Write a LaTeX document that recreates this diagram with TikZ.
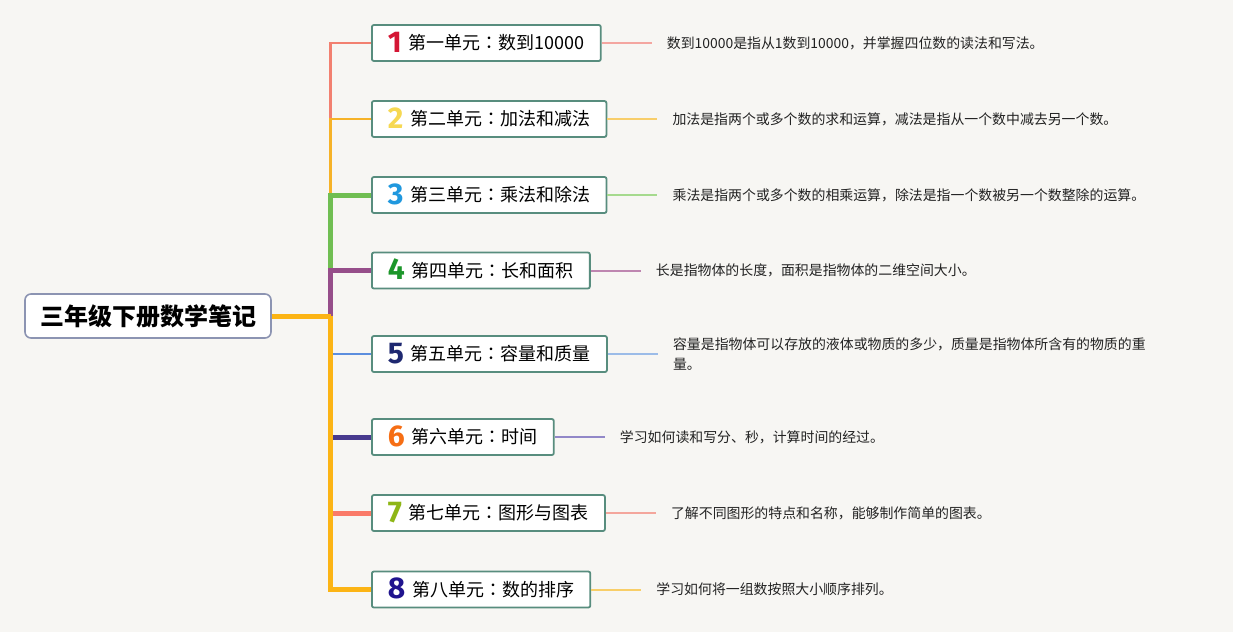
\documentclass[tikz,border=0pt]{standalone}
\usepackage{fontspec}
\setmainfont{Noto Sans CJK SC}
\newfontfamily\numfont{Fira Sans}
\newfontfamily\colonfont{Noto Sans CJK JP}
\usetikzlibrary{positioning}

\definecolor{bgcol}{RGB}{247,246,243}
\definecolor{boxline}{RGB}{88,141,126}
\definecolor{rootline}{RGB}{140,148,178}
\definecolor{txtcol}{RGB}{34,34,34}
\definecolor{bA}{RGB}{242,128,112}
\definecolor{bB}{RGB}{246,178,40}
\definecolor{bC}{RGB}{112,190,82}
\definecolor{bD}{RGB}{150,78,138}
\definecolor{bE}{RGB}{92,142,222}
\definecolor{bF}{RGB}{72,58,142}
\definecolor{bG}{RGB}{250,122,104}
\definecolor{bH}{RGB}{252,180,20}
\definecolor{lA}{RGB}{244,166,160}
\definecolor{lB}{RGB}{248,206,106}
\definecolor{lC}{RGB}{166,218,142}
\definecolor{lD}{RGB}{190,134,176}
\definecolor{lE}{RGB}{156,188,232}
\definecolor{lF}{RGB}{146,136,200}
\definecolor{lG}{RGB}{244,166,156}
\definecolor{lH}{RGB}{248,206,104}
\definecolor{nA}{RGB}{212,22,52}
\definecolor{nB}{RGB}{246,216,82}
\definecolor{nC}{RGB}{32,152,222}
\definecolor{nD}{RGB}{28,150,42}
\definecolor{nE}{RGB}{30,40,112}
\definecolor{nF}{RGB}{246,110,20}
\definecolor{nG}{RGB}{142,182,22}
\definecolor{nH}{RGB}{32,20,142}

\newcommand\unitno[2]{\raisebox{-2.5pt}{\numfont\bfseries\fontsize{30}{30}\selectfont\color{#1}#2}\hspace{7pt}}
\newcommand\ucolon{{\colonfont ：}}

\begin{document}
\begin{tikzpicture}[x=1pt,y=-1pt,rootbox/.style={draw=rootline,line width=1.6pt,fill=white,rounded corners=6pt,minimum width=246pt,minimum height=44pt,inner sep=0pt,font=\fontsize{24}{24}\selectfont\bfseries},unitbox/.style={draw=boxline,line width=1.8pt,fill=white,rounded corners=2pt,anchor=west,minimum height=36pt,text height=15.5pt,text depth=2.5pt,inner xsep=16pt,inner ysep=0pt,font=\fontsize{18}{18}\selectfont},desc/.style={anchor=west,inner xsep=15pt,inner ysep=0pt,align=left,text=txtcol,font=\fontsize{13.9}{20}\selectfont},thin/.style={line width=2.5pt},thick/.style={line width=5pt},dline/.style={line width=2pt}]
\def\xu{371};
\def\gap{50pt};

\fill[bgcol] (0,0) rectangle (1233,632);
\useasboundingbox (0,0) rectangle (1233,632);

\node[rootbox] (R) at (148,316) {三年级下册数学笔记};
\coordinate (J) at (330.5,316);

\node[unitbox] (U1) at (\xu,43) {\unitno{nA}{1}第一单元\ucolon 数到10000};
\node[unitbox] (U2) at (\xu,119) {\unitno{nB}{2}第二单元\ucolon 加法和减法};
\node[unitbox] (U3) at (\xu,195) {\unitno{nC}{3}第三单元\ucolon 乘法和除法};
\node[unitbox] (U4) at (\xu,270.5) {\unitno{nD}{4}第四单元\ucolon 长和面积};
\node[unitbox] (U5) at (\xu,354) {\unitno{nE}{5}第五单元\ucolon 容量和质量};
\node[unitbox] (U6) at (\xu,437) {\unitno{nF}{6}第六单元\ucolon 时间};
\node[unitbox] (U7) at (\xu,513) {\unitno{nG}{7}第七单元\ucolon 图形与图表};
\node[unitbox] (U8) at (\xu,589.5) {\unitno{nH}{8}第八单元\ucolon 数的排序};

% branches above the root
\draw[bA,thin] (J) |- (U1.west);
\draw[bB,thin] (J) |- (U2.west);
\draw[bC,thick] (J) |- (U3.west);
\draw[bD,thick] (J) |- (U4.west);
% branches below the root
\draw[bE,thin] (J) |- (U5.west);
\draw[bF,thick] (J) |- (U6.west);
\draw[bG,thick] (J) |- (U7.west);
\draw[bH,thick] (J) |- (U8.west);
\draw[bH,thick] (R.east) -- (J);

\node[desc,right=\gap of U1] (T1) {数到10000是指从1数到10000，并掌握四位数的读法和写法。};
\draw[lA,dline] (U1.east) -- (T1.west);
\node[desc,right=\gap of U2] (T2) {加法是指两个或多个数的求和运算，减法是指从一个数中减去另一个数。};
\draw[lB,dline] (U2.east) -- (T2.west);
\node[desc,right=\gap of U3] (T3) {乘法是指两个或多个数的相乘运算，除法是指一个数被另一个数整除的运算。};
\draw[lC,dline] (U3.east) -- (T3.west);
\node[desc,right=\gap of U4] (T4) {长是指物体的长度，面积是指物体的二维空间大小。};
\draw[lD,dline] (U4.east) -- (T4.west);
\node[desc,right=\gap of U5] (T5) {容量是指物体可以存放的液体或物质的多少，质量是指物体所含有的物质的重\\量。};
\draw[lE,dline] (U5.east) -- (T5.west);
\node[desc,right=\gap of U6] (T6) {学习如何读和写分、秒，计算时间的经过。};
\draw[lF,dline] (U6.east) -- (T6.west);
\node[desc,right=\gap of U7] (T7) {了解不同图形的特点和名称，能够制作简单的图表。};
\draw[lG,dline] (U7.east) -- (T7.west);
\node[desc,right=\gap of U8] (T8) {学习如何将一组数按照大小顺序排列。};
\draw[lH,dline] (U8.east) -- (T8.west);
\end{tikzpicture}
\end{document}
